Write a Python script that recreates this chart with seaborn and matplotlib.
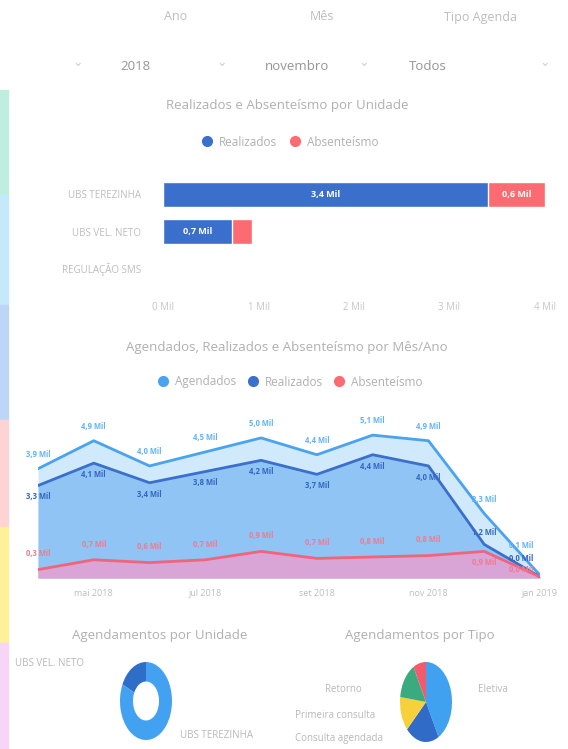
import matplotlib
matplotlib.use("Agg")
import matplotlib.pyplot as plt
from matplotlib.lines import Line2D
from matplotlib.patches import Rectangle
import numpy as np
import pandas as pd
import seaborn as sns

sns.set_theme(style="white")
plt.rcParams['font.family'] = ['Open Sans', 'DejaVu Sans']

W, H = 568, 749

# slicers
slicer_titulos = ["Ano", "Mês", "Tipo Agenda"]
slicer_valores = ["2018", "novembro", "Todos"]

# Realizados e Absenteísmo por Unidade (Mil)
unidades = ["UBS TEREZINHA", "UBS VEL. NETO", "REGULAÇÃO SMS"]
realizados_unid = [3.4, 0.72, 0.0]
absenteismo_unid = [0.6, 0.21, 0.0]
bar_ticks = [0, 1, 2, 3, 4]

# Agendados, Realizados e Absenteísmo por Mês/Ano (Mil)
meses = ["abr 2018", "mai 2018", "jun 2018", "jul 2018", "ago 2018",
         "set 2018", "out 2018", "nov 2018", "dez 2018", "jan 2019"]
agendados = [3.9, 4.9, 4.0, 4.5, 5.0, 4.4, 5.1, 4.9, 2.3, 0.1]
realizados = [3.3, 4.1, 3.4, 3.8, 4.2, 3.7, 4.4, 4.0, 1.2, 0.04]
absenteismo = [0.3, 0.65, 0.55, 0.65, 0.95, 0.7, 0.75, 0.8, 0.95, 0.04]

# Agendamentos por Unidade (%)
unid_nomes = ["UBS VEL. NETO", "UBS TEREZINHA"]
unid_agend = [18, 82]

# Agendamentos por Tipo (%)
tipos = ["Eletiva", "Consulta agendada", "Primeira consulta", "Retorno", "Urgência"]
tipo_agend = [42, 21, 14, 15, 8]

AZUL = "#3a6fcc"
AZUL_CLARO = "#4aa3ee"
VERMELHO = "#fd6b72"
CINZA = "#b0b0b0"


def fmt(v):
    return "{:.1f} Mil".format(v).replace(".", ",")


def ax_px(x0, y0, x1, y1):
    return fig.add_axes([x0 / W, 1 - y1 / H, (x1 - x0) / W, (y1 - y0) / H])


fig = plt.figure(figsize=(W / 100, H / 100), dpi=100)
fig.patch.set_facecolor("white")

# left colour strip
strip = [(90, 195, "#bfeee0"), (195, 305, "#c3e9fa"), (305, 420, "#bdd5f6"),
         (420, 527, "#fdd3d3"), (527, 643, "#fdf29a"), (643, 749, "#f6d5f6")]
for y0, y1, c in strip:
    fig.patches.append(Rectangle((0, 1 - y1 / H), 8 / W, (y1 - y0) / H,
                                 transform=fig.transFigure, color=c, zorder=0))

# slicers
for x, t in zip([176, 322, 480], slicer_titulos):
    fig.text(x / W, 1 - 17 / H, t, ha="center", va="center", size=9, color="#bdbdbd")
for x, t in zip([135, 297, 428], slicer_valores):
    fig.text(x / W, 1 - 66 / H, t, ha="center", va="center", size=9.5, color="#959595")
for x in [78, 222, 364, 545]:
    fig.text(x / W, 1 - 62 / H, "⌄", ha="center", va="center", size=9, color="#cdcdcd")

# ---- bar chart
fig.text(287 / W, 1 - 105 / H, "Realizados e Absenteísmo por Unidade",
         ha="center", va="center", size=9.5, color=CINZA)
h1 = [Line2D([], [], marker="o", ls="", color=c, markersize=7) for c in [AZUL, VERMELHO]]
fig.legend(h1, ["Realizados", "Absenteísmo"], loc="center", bbox_to_anchor=(287 / W, 1 - 142 / H),
           ncol=2, frameon=False, handletextpad=0.0, columnspacing=0.5, fontsize=8.5,
           labelcolor=CINZA)

axb = ax_px(163, 176, 545, 287)
df_u = pd.DataFrame({"unidade": unidades, "realizados": realizados_unid,
                     "total": np.add(realizados_unid, absenteismo_unid)})
sns.barplot(data=df_u, y="unidade", x="total", color=VERMELHO, width=0.68,
            orient="h", saturation=1, ax=axb)
sns.barplot(data=df_u, y="unidade", x="realizados", color=AZUL, width=0.68,
            orient="h", saturation=1, ax=axb)
for i, (r, a) in enumerate(zip(realizados_unid, absenteismo_unid)):
    if r > 0:
        axb.text(r / 2, i, fmt(r), ha="center", va="center", color="white",
                 size=6.5, fontweight="bold")
    if a > 0.3:
        axb.text(r + a / 2, i, fmt(a), ha="center", va="center", color="white",
                 size=6.5, fontweight="bold")
axb.set_xlim(0, 4)
axb.set_ylim(2.5, -0.5)
axb.set_xticks(bar_ticks, labels=["{} Mil".format(t) for t in bar_ticks])
axb.set_xlabel("")
axb.set_ylabel("")
axb.tick_params(axis="x", length=0, colors="#c6c6c6", labelsize=7, pad=11)
axb.tick_params(axis="y", length=0, colors="#bdbdbd", labelsize=7, pad=16)
sns.despine(ax=axb, left=True, bottom=True)

# ---- area chart
fig.text(287 / W, 1 - 347 / H, "Agendados, Realizados e Absenteísmo por Mês/Ano",
         ha="center", va="center", size=9.5, color=CINZA)
h2 = [Line2D([], [], marker="o", ls="", color=c, markersize=7)
      for c in [AZUL_CLARO, AZUL, VERMELHO]]
fig.legend(h2, ["Agendados", "Realizados", "Absenteísmo"], loc="center",
           bbox_to_anchor=(287 / W, 1 - 382 / H), ncol=3, frameon=False,
           handletextpad=0.0, columnspacing=0.4, fontsize=8.5, labelcolor=CINZA)

axa = ax_px(38, 420, 540, 578)
df_m = pd.DataFrame({"i": np.arange(len(meses)), "Agendados": agendados,
                     "Realizados": realizados, "Absenteísmo": absenteismo})
axa.fill_between(df_m["i"], df_m["Agendados"], color="#d0eafb", lw=0)
axa.fill_between(df_m["i"], df_m["Realizados"], color="#90c4f4", lw=0)
axa.fill_between(df_m["i"], df_m["Absenteísmo"], color="#d9a4d6", lw=0)
sns.lineplot(data=df_m, x="i", y="Agendados", color=AZUL_CLARO, lw=2, ax=axa)
sns.lineplot(data=df_m, x="i", y="Realizados", color=AZUL, lw=2, ax=axa)
sns.lineplot(data=df_m, x="i", y="Absenteísmo", color="#f2647c", lw=2, ax=axa)

n = len(meses)
lab_kw = dict(textcoords="offset points", size=5.5, fontweight="bold")
for i in range(n):
    if i == n - 1:
        # last month: stack the three labels to the left of the point
        offs = [(-5, 18), (-5, 10), (-5, 2)]
        has = ["right"] * 3
        vas = ["bottom"] * 3
    elif i == n - 2:
        offs = [(0, 7), (0, 5), (0, -5)]
        has = ["center"] * 3
        vas = ["bottom", "bottom", "top"]
    else:
        offs = [(0, 7), (0, -5), (0, 8)]
        has = ["center"] * 3
        vas = ["bottom", "top", "bottom"]
    for serie, cor, o, ha, va in zip([agendados, realizados, absenteismo],
                                     ["#62b4f2", "#3465c0", "#f27a90"], offs, has, vas):
        axa.annotate(fmt(serie[i]), (i, serie[i]), xytext=o, ha=ha, va=va,
                     color=cor, **lab_kw)
axa.set_xlim(0, n - 1)
axa.set_ylim(0, 5.64)
axa.set_xticks(df_m["i"][1::2], labels=meses[1::2])
axa.set_yticks([])
axa.set_xlabel("")
axa.set_ylabel("")
axa.tick_params(axis="x", length=0, colors="#bdbdbd", labelsize=6.5, pad=8)
sns.despine(ax=axa, left=True, bottom=True)

# ---- donut
fig.text(160 / W, 1 - 635 / H, "Agendamentos por Unidade", ha="center", va="center",
         size=9.5, color=CINZA)
axd = ax_px(120, 662, 172, 740)
axd.pie(unid_agend, colors=["#2e6ec8", "#42a2f1"], startangle=90, counterclock=True,
        wedgeprops=dict(width=0.5, linewidth=0))
axd.set_aspect("auto")
axd.set_xlim(-1, 1)
axd.set_ylim(-1, 1)
fig.text(15 / W, 1 - 663 / H, unid_nomes[0], ha="left", va="center", size=7, color="#b8b8b8")
fig.text(180 / W, 1 - 735 / H, unid_nomes[1], ha="left", va="center", size=7, color="#b8b8b8")

# ---- pie
fig.text(420 / W, 1 - 635 / H, "Agendamentos por Tipo", ha="center", va="center",
         size=9.5, color=CINZA)
axp = ax_px(400, 662, 452, 742)
axp.pie(tipo_agend, colors=["#3fa1ef", "#2f6bc7", "#f7d13b", "#3aab7e", "#f15b6b"],
        startangle=90, counterclock=False, wedgeprops=dict(linewidth=0))
axp.set_aspect("auto")
axp.set_xlim(-1, 1)
axp.set_ylim(-1, 1)
fig.text(478 / W, 1 - 690 / H, tipos[0], ha="left", va="center", size=7, color="#b8b8b8")
fig.text(362 / W, 1 - 690 / H, tipos[3], ha="right", va="center", size=7, color="#b8b8b8")
fig.text(295 / W, 1 - 716 / H, tipos[2], ha="left", va="center", size=7, color="#b8b8b8")
fig.text(295 / W, 1 - 738 / H, tipos[1], ha="left", va="center", size=7, color="#b8b8b8")

fig.savefig("out.png", dpi=100)
